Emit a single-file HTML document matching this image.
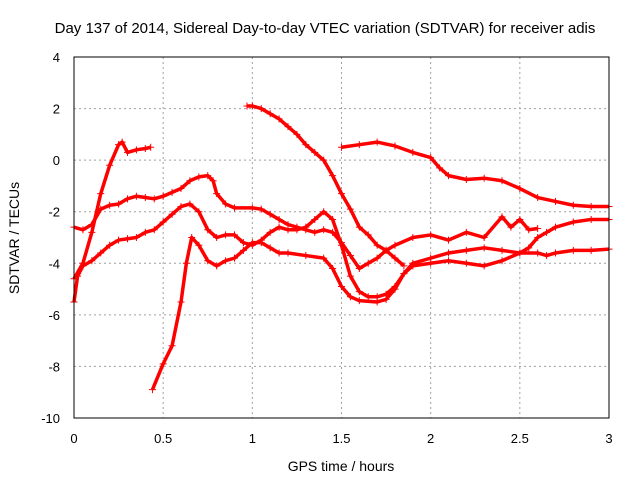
<!DOCTYPE html>
<html><head><meta charset="utf-8"><style>
body{margin:0;background:#fff;}
svg{display:block;font-family:"Liberation Sans",sans-serif;}
</style></head><body>
<svg id="chart" width="640" height="480">
<text x="325" y="33" text-anchor="middle" font-size="15">Day 137 of 2014, Sidereal Day-to-day VTEC variation (SDTVAR) for receiver adis</text>
<text x="341" y="471" text-anchor="middle" font-size="14">GPS time / hours</text>
<text transform="translate(19,238) rotate(-90)" text-anchor="middle" font-size="14">SDTVAR / TECUs</text>
<g id="grid"></g><g id="series"></g>
<rect x="74" y="57" width="535" height="361" fill="none" stroke="#000" stroke-width="1"/>
</svg>
<script>
const xTicks=[0,0.5,1,1.5,2,2.5,3];
const xTickLabels=["0","0.5","1","1.5","2","2.5","3"];
const yTicks=[-10,-8,-6,-4,-2,0,2,4];
const yTickLabels=["-10","-8","-6","-4","-2","0","2","4"];
const s1x=[0,0.05,0.1,0.15,0.2,0.25,0.3,0.35,0.4,0.45,0.5,0.55,0.6,0.65,0.7,0.75,0.78,0.8,0.85,0.9,1.0,1.05,1.1,1.15,1.2,1.25,1.3,1.35,1.4,1.45,1.5,1.55,1.6,1.65,1.7,1.75,1.8,1.9,2.0,2.1,2.2,2.3,2.4,2.45,2.5,2.55,2.6];
const s1y=[-2.6,-2.7,-2.5,-1.9,-1.75,-1.7,-1.5,-1.4,-1.45,-1.5,-1.4,-1.25,-1.1,-0.8,-0.65,-0.6,-0.8,-1.3,-1.7,-1.85,-1.85,-1.9,-2.1,-2.3,-2.5,-2.6,-2.7,-2.8,-2.7,-2.8,-3.2,-3.7,-4.2,-4.0,-3.8,-3.5,-3.3,-3.0,-2.9,-3.1,-2.8,-3.0,-2.2,-2.6,-2.3,-2.7,-2.65];
const s2x=[0,0.02,0.05,0.1,0.15,0.2,0.25,0.3,0.35,0.4,0.45,0.5,0.55,0.6,0.65,0.7,0.75,0.8,0.85,0.9,0.95,1.0,1.05,1.1,1.15,1.2,1.25,1.3,1.35,1.4,1.45,1.5,1.55,1.6,1.65,1.7,1.75,1.8,1.85,1.9,2.0,2.1,2.2,2.3,2.4,2.5,2.6,2.65,2.7,2.8,2.9,3.0];
const s2y=[-5.5,-4.5,-4.1,-3.9,-3.6,-3.3,-3.1,-3.05,-3.0,-2.8,-2.7,-2.4,-2.1,-1.8,-1.7,-2.0,-2.7,-3.0,-2.9,-2.9,-3.2,-3.3,-3.1,-2.8,-2.6,-2.7,-2.7,-2.6,-2.3,-2.0,-2.3,-3.3,-4.5,-5.1,-5.3,-5.3,-5.2,-4.9,-4.4,-4.0,-3.8,-3.6,-3.5,-3.4,-3.5,-3.6,-3.6,-3.7,-3.6,-3.5,-3.5,-3.45];
const s3x=[0.44,0.5,0.55,0.6,0.63,0.66,0.7,0.75,0.8,0.85,0.9,0.95,1.0,1.05,1.1,1.15,1.2,1.3,1.4,1.45,1.5,1.55,1.6,1.7,1.75,1.8,1.85,1.9,2.0,2.1,2.2,2.3,2.4,2.5,2.55,2.6,2.65,2.7,2.8,2.9,3.0];
const s3y=[-8.9,-7.9,-7.2,-5.5,-4.0,-3.0,-3.3,-3.9,-4.1,-3.9,-3.8,-3.5,-3.2,-3.2,-3.4,-3.6,-3.6,-3.7,-3.8,-4.2,-4.9,-5.3,-5.45,-5.5,-5.4,-5.0,-4.4,-4.1,-4.0,-3.9,-4.0,-4.1,-3.9,-3.6,-3.4,-3.0,-2.8,-2.6,-2.4,-2.3,-2.3];
const s4x=[0,0.05,0.1,0.15,0.2,0.25,0.27,0.3,0.35,0.4,0.43];
const s4y=[-4.6,-4.0,-2.8,-1.3,-0.2,0.6,0.7,0.3,0.4,0.45,0.5];
const s5x=[0.97,1.0,1.05,1.1,1.15,1.2,1.25,1.3,1.35,1.4,1.45,1.5,1.55,1.6,1.65,1.7,1.75,1.8,1.85];
const s5y=[2.1,2.1,2.0,1.8,1.6,1.3,1.0,0.6,0.3,0.0,-0.6,-1.3,-1.9,-2.6,-2.9,-3.3,-3.5,-3.8,-4.1];
const s6x=[1.5,1.6,1.7,1.8,1.9,2.0,2.05,2.1,2.2,2.3,2.4,2.5,2.6,2.7,2.8,2.9,3.0];
const s6y=[0.5,0.6,0.7,0.55,0.3,0.1,-0.3,-0.6,-0.75,-0.7,-0.8,-1.1,-1.45,-1.6,-1.75,-1.8,-1.8];

const NS="http://www.w3.org/2000/svg";
const X=v=>74+v/3*535, Y=v=>57+(4-v)/14*361;
const grid=document.getElementById('grid'), ser=document.getElementById('series');
function mk(t,a,p){const e=document.createElementNS(NS,t);for(const k in a)e.setAttribute(k,a[k]);p.appendChild(e);return e;}
xTicks.forEach((v,i)=>{
  if(i>0&&i<xTicks.length-1){const g=mk('line',{x1:X(v),x2:X(v),y1:57,y2:418,stroke:'#a0a0a0','stroke-dasharray':'2,3'},grid);
  
  }
  const t=mk('text',{x:X(v),y:443,'text-anchor':'middle','font-size':13},grid);t.textContent=xTickLabels[i];
  
  
});
yTicks.forEach((v,i)=>{
  if(i>0&&i<yTicks.length-1){const g=mk('line',{x1:74,x2:609,y1:Y(v),y2:Y(v),stroke:'#a0a0a0','stroke-dasharray':'2,3'},grid);
  
  }
  const t=mk('text',{x:60,y:Y(v)+5,'text-anchor':'end','font-size':13},grid);t.textContent=yTickLabels[i];
  
  
});
[[s1x,s1y],[s2x,s2y],[s3x,s3y],[s4x,s4y],[s5x,s5y],[s6x,s6y]].forEach((s,k)=>{
  const g=mk('g',{},ser);
  
  
  const pts=s[0].map((x,i)=>X(x)+','+Y(s[1][i])).join(' ');
  mk('polyline',{points:pts,fill:'none',stroke:'#ff0000','stroke-width':3.5,'stroke-linejoin':'round'},g);
  s[0].forEach((x,i)=>{const cx=X(x),cy=Y(s[1][i]);
    const p=mk('path',{d:`M${cx-3.5},${cy}h7M${cx},${cy-3.5}v7`,stroke:'#ff0000','stroke-width':1},g);
    
    
  });
});
</script>
</body></html>
